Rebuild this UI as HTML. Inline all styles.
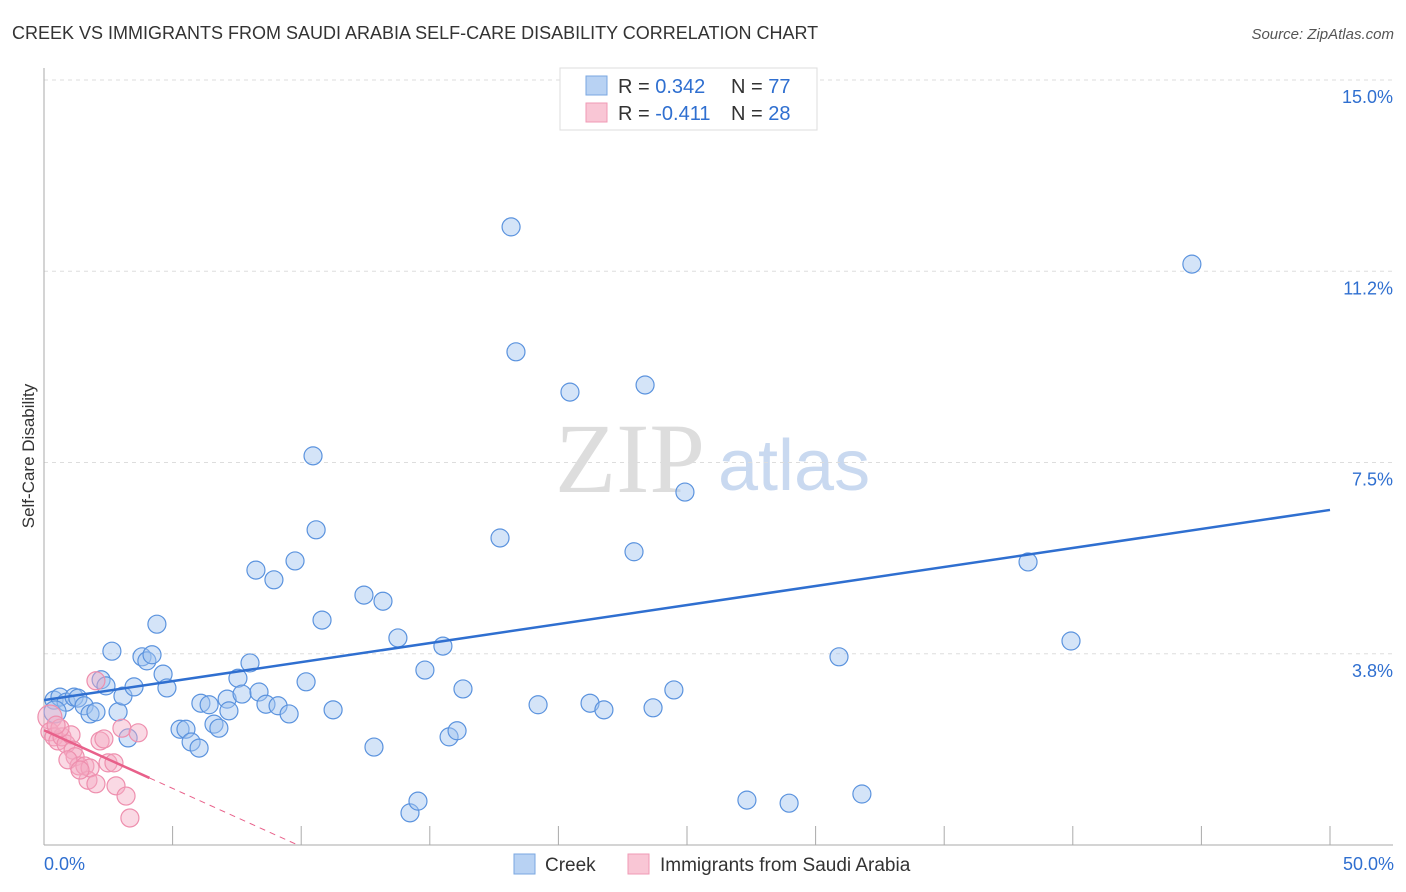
<!DOCTYPE html>
<html><head><meta charset="utf-8"><style>
body{margin:0;background:#fff;font-family:"Liberation Sans",sans-serif}
</style></head><body>
<svg id="c" width="1406" height="892" style="display:block">
<text x="12" y="39" font-size="18" fill="#333">CREEK VS IMMIGRANTS FROM SAUDI ARABIA SELF-CARE DISABILITY CORRELATION CHART</text>
<text x="1394" y="39" font-size="15" fill="#555" font-style="italic" text-anchor="end">Source: ZipAtlas.com</text>
<text x="34" y="456" font-size="17" fill="#333" text-anchor="middle" transform="rotate(-90 34 456)">Self-Care Disability</text>
<text x="555" y="492" font-size="100" fill="#ddd" font-family="Liberation Serif,serif">ZIP</text>
<text x="718" y="490" font-size="72" fill="#c9d9f0">atlas</text>
<g id="grid"></g><g id="pts"></g><g id="lines"></g>
<g>
<rect x="560" y="68" width="257" height="62" fill="#fff" stroke="#ddd"/>
<rect x="586" y="76" width="21" height="19" fill="#b8d2f3" stroke="#7aa7e0"/>
<rect x="586" y="103" width="21" height="19" fill="#f9c6d5" stroke="#f09ab5"/>
<text x="618" y="93" font-size="20" fill="#333">R = <tspan fill="#2f6fd0">0.342</tspan><tspan x="731">N = </tspan><tspan fill="#2f6fd0">77</tspan></text>
<text x="618" y="120" font-size="20" fill="#333">R = <tspan fill="#2f6fd0">-0.411</tspan><tspan x="731">N = </tspan><tspan fill="#2f6fd0">28</tspan></text>
</g>
<g>
<rect x="514" y="854" width="21" height="20" fill="#b8d2f3" stroke="#7aa7e0"/>
<text x="545" y="871" font-size="19" fill="#333">Creek</text>
<rect x="628" y="854" width="21" height="20" fill="#f9c6d5" stroke="#f09ab5"/>
<text x="660" y="871" font-size="19" fill="#333">Immigrants from Saudi Arabia</text>
</g>
<text x="44" y="870" font-size="18" fill="#2f6fd0">0.0%</text>
<text x="1394" y="870" font-size="18" fill="#2f6fd0" text-anchor="end">50.0%</text>
</svg>
<script>
const yTicks=[3.8,7.5,11.2,15.0];
const yTickVals=[3.75,7.5,11.25,15];
const xTicks=[0,5,10,15,20,25,30,35,40,45,50];
const creekX=[0.39,0.62,0.86,1.17,1.32,1.56,1.79,2.02,2.22,2.41,2.64,2.88,3.07,3.27,3.5,3.81,4.0,4.2,4.39,4.63,4.78,5.29,5.52,5.72,6.03,6.1,6.42,6.61,6.8,7.12,7.19,7.54,7.7,8.01,8.24,8.36,8.63,8.94,9.1,9.53,9.76,10.19,10.46,10.58,10.81,11.24,12.44,12.83,13.18,13.76,14.23,14.54,14.81,15.51,15.75,16.06,16.29,17.73,18.16,18.35,19.21,20.45,21.23,21.77,22.94,23.37,23.68,24.49,24.92,27.33,28.97,30.91,31.8,38.26,39.93,44.63,0.43];
const creekY=[2.84,2.9,2.8,2.9,2.88,2.73,2.57,2.61,3.24,3.12,3.8,2.61,2.92,2.1,3.1,3.69,3.61,3.73,4.33,3.35,3.08,2.27,2.27,2.02,1.9,2.78,2.75,2.37,2.29,2.86,2.63,3.27,2.96,3.57,5.39,3.0,2.76,5.2,2.73,2.57,5.57,3.2,7.63,6.18,4.41,2.65,4.9,1.92,4.78,4.06,0.63,0.86,3.43,3.9,2.12,2.24,3.06,6.02,12.12,9.67,2.75,8.88,2.78,2.65,5.75,9.02,2.69,3.04,6.92,0.88,0.82,3.69,1.0,5.55,4.0,11.39,2.61];
const saX=[0.23,0.23,0.39,0.54,0.7,0.86,1.05,1.13,1.21,1.36,1.59,1.71,1.79,2.02,2.02,2.18,2.33,2.49,2.72,2.8,3.03,3.19,3.34,3.66,0.62,0.93,1.4,0.47];
const saY=[2.51,2.22,2.12,2.04,2.12,1.98,2.16,1.86,1.73,1.55,1.55,1.27,1.51,3.22,1.2,2.04,2.08,1.61,1.61,1.16,2.29,0.96,0.53,2.2,2.29,1.67,1.47,2.35];
const blueTrend=[2.84,6.57];
const pinkTrend=[2.25,-0.228];
const NS='http://www.w3.org/2000/svg';
const X=v=>44+v*25.72, Y=v=>845-v*51.0;
function mk(t,a,p){const e=document.createElementNS(NS,t);for(const k in a)e.setAttribute(k,a[k]);p.appendChild(e);return e;}
const g=document.getElementById('grid');
yTickVals.forEach((v,i)=>{
 const l=mk('line',{x1:44,x2:1393,y1:Y(v),y2:Y(v),stroke:'#ddd','stroke-dasharray':'4,4'},g);
 
 
 const t=mk('text',{x:1393,y:Y(v)+23,'font-size':18,fill:'#2f6fd0','text-anchor':'end'},g);
 t.textContent=yTicks[i].toFixed(1)+'%';
 
 
});
mk('line',{x1:44,x2:44,y1:68,y2:845,stroke:'#aaa'},g);
mk('line',{x1:44,x2:1393,y1:845,y2:845,stroke:'#aaa'},g);
xTicks.forEach(v=>{if(v>0){const l=mk('line',{x1:X(v),x2:X(v),y1:826,y2:845,stroke:'#aaa'},g);
 
 }});
const p=document.getElementById('pts');
creekX.forEach((x,i)=>{const c=mk('circle',{cx:X(x),cy:Y(creekY[i]),r:i==76?11:9,fill:'rgba(160,195,240,0.45)',stroke:'#5b93de','stroke-width':1.2},p);
 
 });
saX.forEach((x,i)=>{const c=mk('circle',{cx:X(x),cy:Y(saY[i]),r:i==0?12:9,fill:'rgba(245,170,195,0.45)',stroke:'#ee8fae','stroke-width':1.2},p);
 
 });
const L=document.getElementById('lines');
const bl=mk('line',{x1:X(0),y1:Y(blueTrend[0]),x2:X(50),y2:Y(blueTrend[1]),stroke:'#2f6fd0','stroke-width':2.5},L);


const pl=mk('line',{x1:X(0),y1:Y(pinkTrend[0]),x2:X(4.1),y2:Y(pinkTrend[0]+pinkTrend[1]*4.1),stroke:'#e8608a','stroke-width':2.5},L);


const z=-pinkTrend[0]/pinkTrend[1];
const pd=mk('line',{x1:X(4.1),y1:Y(pinkTrend[0]+pinkTrend[1]*4.1),x2:X(z),y2:Y(0),stroke:'#e8608a','stroke-width':1,'stroke-dasharray':'6,5'},L);


</script>
</body></html>
